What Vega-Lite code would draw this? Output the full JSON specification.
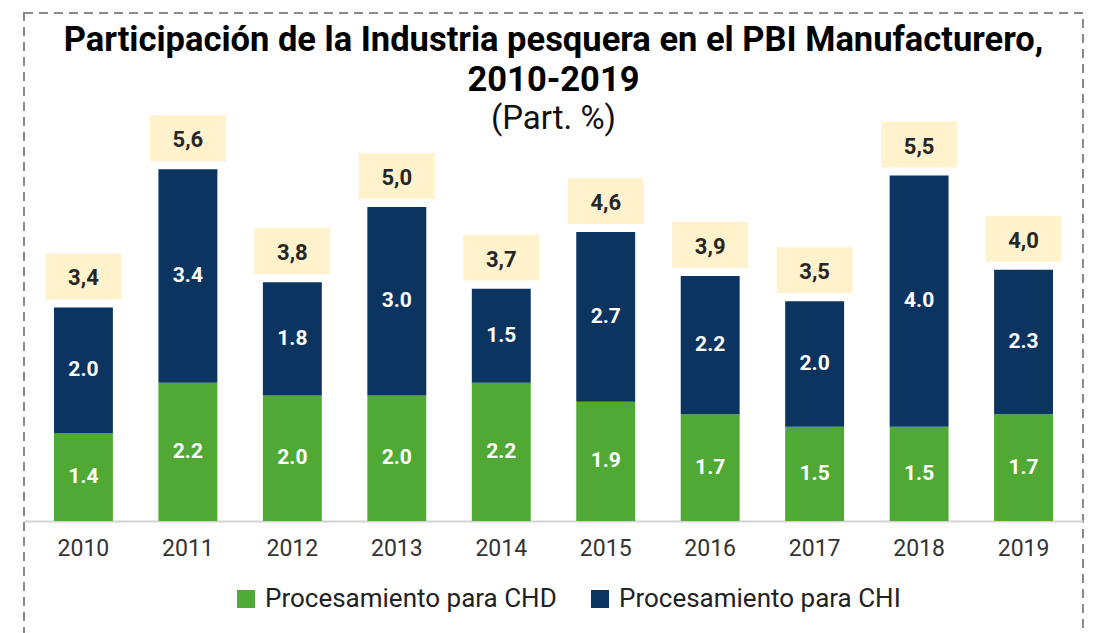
{
  "$schema": "https://vega.github.io/schema/vega-lite/v6.json",
  "width": 1059,
  "height": 640,
  "padding": {"left": 24, "top": 13, "right": 11, "bottom": 0},
  "autosize": {"type": "pad"},
  "background": "white",
  "title": {
    "text": ["Participación de la Industria pesquera en el PBI Manufacturero,", "2010-2019"],
    "subtitle": "(Part. %)",
    "anchor": "middle",
    "offset": -124,
    "font": "Roboto",
    "fontSize": 34.5,
    "fontWeight": "bold",
    "color": "#000000",
    "lineHeight": 40,
    "subtitleFont": "Roboto",
    "subtitleFontSize": 33,
    "subtitleFontWeight": "normal",
    "subtitleColor": "#111111",
    "subtitlePadding": 5,
    "subtitleLineHeight": 37
  },
  "datasets": {
    "segmentos": [
      {"anio": "2010", "serie": "Procesamiento para CHD", "valor": 1.4},
      {"anio": "2010", "serie": "Procesamiento para CHI", "valor": 2.0},
      {"anio": "2011", "serie": "Procesamiento para CHD", "valor": 2.2},
      {"anio": "2011", "serie": "Procesamiento para CHI", "valor": 3.4},
      {"anio": "2012", "serie": "Procesamiento para CHD", "valor": 2.0},
      {"anio": "2012", "serie": "Procesamiento para CHI", "valor": 1.8},
      {"anio": "2013", "serie": "Procesamiento para CHD", "valor": 2.0},
      {"anio": "2013", "serie": "Procesamiento para CHI", "valor": 3.0},
      {"anio": "2014", "serie": "Procesamiento para CHD", "valor": 2.2},
      {"anio": "2014", "serie": "Procesamiento para CHI", "valor": 1.5},
      {"anio": "2015", "serie": "Procesamiento para CHD", "valor": 1.9},
      {"anio": "2015", "serie": "Procesamiento para CHI", "valor": 2.7},
      {"anio": "2016", "serie": "Procesamiento para CHD", "valor": 1.7},
      {"anio": "2016", "serie": "Procesamiento para CHI", "valor": 2.2},
      {"anio": "2017", "serie": "Procesamiento para CHD", "valor": 1.5},
      {"anio": "2017", "serie": "Procesamiento para CHI", "valor": 2.0},
      {"anio": "2018", "serie": "Procesamiento para CHD", "valor": 1.5},
      {"anio": "2018", "serie": "Procesamiento para CHI", "valor": 4.0},
      {"anio": "2019", "serie": "Procesamiento para CHD", "valor": 1.7},
      {"anio": "2019", "serie": "Procesamiento para CHI", "valor": 2.3}
    ],
    "totales": [
      {"anio": "2010", "total": 3.4, "etiqueta": "3,4"},
      {"anio": "2011", "total": 5.6, "etiqueta": "5,6"},
      {"anio": "2012", "total": 3.8, "etiqueta": "3,8"},
      {"anio": "2013", "total": 5.0, "etiqueta": "5,0"},
      {"anio": "2014", "total": 3.7, "etiqueta": "3,7"},
      {"anio": "2015", "total": 4.6, "etiqueta": "4,6"},
      {"anio": "2016", "total": 3.9, "etiqueta": "3,9"},
      {"anio": "2017", "total": 3.5, "etiqueta": "3,5"},
      {"anio": "2018", "total": 5.5, "etiqueta": "5,5"},
      {"anio": "2019", "total": 4.0, "etiqueta": "4,0"}
    ]
  },
  "config": {
    "view": {"stroke": "#8a8a8a", "strokeWidth": 2, "strokeDash": [9, 6]},
    "font": "Roboto"
  },
  "layer": [
    {
      "data": {"name": "segmentos"},
      "mark": {"type": "bar"},
      "encoding": {
        "x": {
          "field": "anio", "type": "nominal",
          "scale": {"paddingInner": 0.436, "paddingOuter": 0.287},
          "axis": {
            "orient": "bottom", "offset": -132, "title": null,
            "domainColor": "#d3d3d3", "domainWidth": 2, "ticks": false,
            "labelAngle": 0, "labelFont": "Roboto", "labelFontSize": 23,
            "labelColor": "#333333", "labelPadding": 16
          }
        },
        "y": {
          "field": "valor", "type": "quantitative", "stack": "zero",
          "scale": {"domain": [-2.102, 8.089], "nice": false, "zero": false},
          "axis": null
        },
        "color": {
          "field": "serie", "type": "nominal",
          "scale": {
            "domain": ["Procesamiento para CHD", "Procesamiento para CHI"],
            "range": ["#50a935", "#0b3560"]
          },
          "legend": {
            "orient": "none", "legendX": 209, "legendY": 573,
            "direction": "horizontal", "title": null, "padding": 0,
            "symbolType": "square", "symbolSize": 324, "symbolStrokeWidth": 0,
            "symbolOpacity": 1,
            "labelFont": "Roboto", "labelFontSize": 26, "labelColor": "#222222",
            "labelOffset": 6, "columnPadding": 30, "labelLimit": 400
          }
        },
        "order": {"field": "serie", "sort": "ascending"}
      }
    },
    {
      "data": {"name": "segmentos"},
      "transform": [
        {"stack": "valor", "groupby": ["anio"], "sort": [{"field": "serie", "order": "ascending"}], "as": ["v0", "v1"]},
        {"calculate": "(datum.v0 + datum.v1) / 2", "as": "medio"}
      ],
      "mark": {"type": "text", "color": "white", "fontWeight": "bold", "fontSize": 21, "font": "Roboto", "baseline": "middle"},
      "encoding": {
        "x": {"field": "anio", "type": "nominal"},
        "y": {"field": "medio", "type": "quantitative", "scale": {"domain": [-2.102, 8.089], "nice": false, "zero": false}, "axis": null},
        "text": {"field": "valor", "type": "quantitative", "format": ".1f"}
      }
    },
    {
      "data": {"name": "totales"},
      "mark": {"type": "point", "filled": true, "shape": "M-1,-0.605L1,-0.605L1,0.605L-1,0.605Z", "size": 5776, "color": "#fff2cc", "opacity": 1, "strokeWidth": 0, "yOffset": -31},
      "encoding": {
        "x": {"field": "anio", "type": "nominal"},
        "y": {"field": "total", "type": "quantitative", "scale": {"domain": [-2.102, 8.089], "nice": false, "zero": false}, "axis": null}
      }
    },
    {
      "data": {"name": "totales"},
      "mark": {"type": "text", "color": "#262626", "fontWeight": "bold", "fontSize": 22, "font": "Roboto", "baseline": "middle", "dy": -29},
      "encoding": {
        "x": {"field": "anio", "type": "nominal"},
        "y": {"field": "total", "type": "quantitative", "scale": {"domain": [-2.102, 8.089], "nice": false, "zero": false}, "axis": null},
        "text": {"field": "etiqueta", "type": "nominal"}
      }
    }
  ]
}
